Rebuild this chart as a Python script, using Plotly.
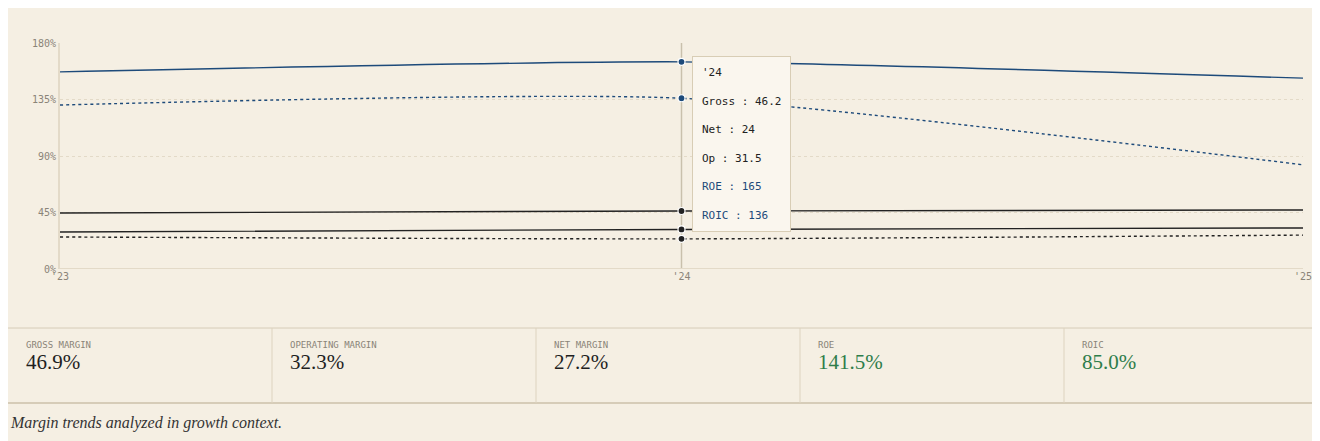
import plotly.graph_objects as go

years = ["'23", "'24", "'25"]
gross = [44.6, 46.2, 47.0]
op = [29.5, 31.5, 32.7]
net = [25.5, 24, 27.0]
roe = [157, 165, 152]
roic = [130.6, 136, 83]

card_labels = ["GROSS MARGIN", "OPERATING MARGIN", "NET MARGIN", "ROE", "ROIC"]
card_values = ["46.9%", "32.3%", "27.2%", "141.5%", "85.0%"]
card_colors = ["#1f1f1f", "#1f1f1f", "#1f1f1f", "#2e7d4a", "#2e7d4a"]

W, H = 1320, 441
L, R, T, B = 52, 25, 35, 180
PW, PH = W - L - R, H - T - B
bg = "#f5efe3"
dark = "#222222"
blue = "#1d4a7a"
mono = "DejaVu Sans Mono, monospace"
serif = "Liberation Serif, serif"


def px(x):
    return (x - L) / PW


def py(y):
    return (H - B - y) / PH


fig = go.Figure()
series = [
    ("Gross", gross, dark, "solid"),
    ("Op", op, dark, "solid"),
    ("Net", net, dark, "dot"),
    ("ROE", roe, blue, "solid"),
    ("ROIC", roic, blue, "dot"),
]
for name, vals, col, dash in series:
    fig.add_trace(go.Scatter(x=[0, 1, 2], y=vals, mode="lines", name=name,
                             line=dict(color=col, width=1.4, dash=dash, shape="spline", smoothing=0.6)))
    fig.add_trace(go.Scatter(x=[1], y=[vals[1]], mode="markers", showlegend=False,
                             marker=dict(color=col, size=7, line=dict(color="white", width=1.2))))

# hover spike line at '24
fig.add_shape(type="line", xref="x", yref="paper", x0=1, x1=1, y0=0, y1=1,
              line=dict(color="#c9c0ac", width=1.5), layer="below")

tip = ("'24<br><br>Gross : 46.2<br><br>Net : 24<br><br>Op : 31.5<br><br>"
       "<span style='color:#1d4a7a'>ROE : 165</span><br><br>"
       "<span style='color:#1d4a7a'>ROIC : 136</span>")
fig.add_annotation(x=px(684), y=py(48), xref="paper", yref="paper", xanchor="left", yanchor="top",
                   text=tip, showarrow=False, align="left",
                   font=dict(family=mono, size=11, color=dark, lineposition="none"),
                   bgcolor="#faf6ee", bordercolor="#d8cdb5", borderwidth=1, borderpad=9)

# stat cards
fig.add_shape(type="line", xref="paper", yref="paper", x0=px(0), x1=px(W), y0=py(320), y1=py(320),
              line=dict(color="#d6ccb8", width=1))
fig.add_shape(type="line", xref="paper", yref="paper", x0=px(0), x1=px(W), y0=py(395), y1=py(395),
              line=dict(color="#d6ccb8", width=2))
for i, (lab, val, col) in enumerate(zip(card_labels, card_values, card_colors)):
    x0 = i * 264
    if i > 0:
        fig.add_shape(type="line", xref="paper", yref="paper", x0=px(x0), x1=px(x0),
                      y0=py(395), y1=py(320), line=dict(color="#ddd3bf", width=1))
    fig.add_annotation(x=px(x0 + 16), y=py(344), xref="paper", yref="paper", xanchor="left",
                       text=lab, showarrow=False, font=dict(family=mono, size=9, color="#8a8478"))
    fig.add_annotation(x=px(x0 + 16), y=py(368), xref="paper", yref="paper", xanchor="left",
                       text=val, showarrow=False, font=dict(family=serif, size=21, color=col))

fig.add_annotation(x=px(0), y=py(426), xref="paper", yref="paper", xanchor="left",
                   text="<i>Margin trends analyzed in growth context.</i>", showarrow=False,
                   font=dict(family=serif, size=16, color="#333333"))

fig.update_layout(
    width=W, height=H, paper_bgcolor=bg, plot_bgcolor=bg, showlegend=False,
    margin=dict(l=L, r=R, t=T, b=B),
)
fig.update_xaxes(range=[0, 2], tickvals=[0, 1, 2], ticktext=years, showgrid=False, zeroline=False,
                 tickfont=dict(family=mono, size=10, color="#8a8478"), showline=False)
fig.update_yaxes(range=[0, 180], tickvals=[0, 45, 90, 135, 180],
                 ticktext=["0%", "45%", "90%", "135%", "180%"],
                 gridcolor="#e3dac8", griddash="dot", zeroline=False, showline=True,
                 linecolor="#e3dac8", linewidth=2,
                 tickfont=dict(family=mono, size=10, color="#8a8478"))
fig.add_shape(type="line", xref="paper", yref="y", x0=0, x1=1, y0=0, y1=0,
              line=dict(color="#e3dac8", width=2), layer="below")

fig.write_html("out.html")
